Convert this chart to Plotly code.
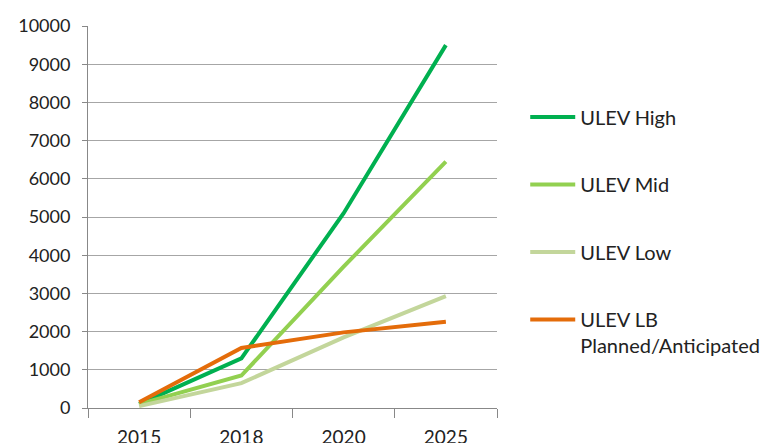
import plotly.graph_objects as go

years = ["2015", "2018", "2020", "2025"]
ulev_high = [100, 1300, 5100, 9500]
ulev_mid = [100, 850, 3700, 6450]
ulev_low = [50, 650, 1850, 2930]
ulev_lb = [150, 1570, 1980, 2260]

series = [
    ("ULEV High", ulev_high, "#00b050"),
    ("ULEV Mid", ulev_mid, "#92d050"),
    ("ULEV Low", ulev_low, "#c3d69b"),
    ("ULEV LB<br>Planned/Anticipated", ulev_lb, "#e46c0a"),
]

fig = go.Figure()
for i, (name, vals, color) in enumerate(series):
    fig.add_trace(go.Scatter(
        x=years, y=vals, name=name, mode="lines",
        line=dict(color=color, width=4),
        legendgroup=f"g{i}",
    ))

font_family = "Lato, 'Liberation Sans', sans-serif"

fig.update_layout(
    width=769, height=443,
    margin=dict(l=88, r=272, t=26, b=35),
    paper_bgcolor="white", plot_bgcolor="white",
    font=dict(family=font_family, size=18, color="#222222"),
    showlegend=True,
    legend=dict(
        xref="container", yref="container",
        x=0.683, y=0.780, xanchor="left", yanchor="top",
        font=dict(size=20, color="#222222"),
        tracegroupgap=38.5,
        itemwidth=45,
        valign="top",
        maxheight=440,
        bgcolor="rgba(0,0,0,0)",
    ),
    xaxis=dict(
        type="category", range=[-0.5, 3.5],
        tickson="boundaries", ticks="outside", ticklen=9,
        tickcolor="#888888", showline=True, linecolor="#888888",
        showgrid=False, automargin=False,
        ticklabelstandoff=12,
        tickfont=dict(size=19),
    ),
    yaxis=dict(
        range=[0, 10000], dtick=1000, tickformat="d",
        ticks="outside", ticklen=5,
        tickcolor="#888888", showline=True, linecolor="#888888",
        showgrid=True, gridcolor="#a6a6a6", gridwidth=1,
        zeroline=False, automargin=False,
        tickfont=dict(size=18), ticklabelstandoff=8,
    ),
)

fig.write_html("out.html")
